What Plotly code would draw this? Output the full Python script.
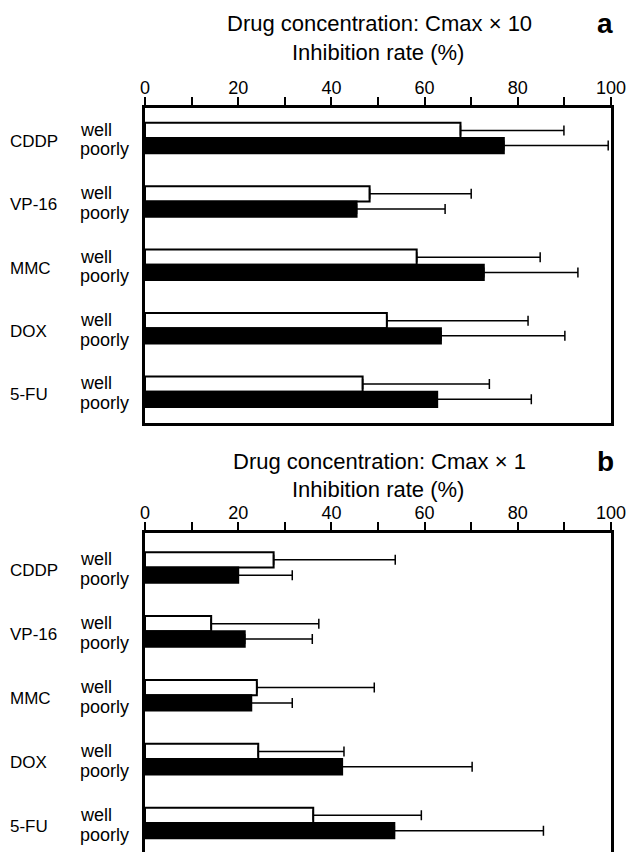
import plotly.graph_objects as go

# ---------------- data ----------------
drugs = ["CDDP", "VP-16", "MMC", "DOX", "5-FU"]
groups = ["well", "poorly"]

# Panel a: Cmax x 10  (mean, mean+SD)
a_well = [67.7, 48.2, 58.3, 51.9, 46.7]
a_well_upper = [89.9, 70.0, 84.8, 82.2, 73.9]
a_poorly = [77.0, 45.4, 72.7, 63.5, 62.7]
a_poorly_upper = [99.4, 64.4, 92.9, 90.1, 82.9]

# Panel b: Cmax x 1
b_well = [27.6, 14.2, 24.0, 24.3, 36.1]
b_well_upper = [53.7, 37.3, 49.2, 42.7, 59.3]
b_poorly = [20.0, 21.4, 22.8, 42.3, 53.5]
b_poorly_upper = [31.6, 35.9, 31.6, 70.2, 85.5]

tick_vals = [0, 10, 20, 30, 40, 50, 60, 70, 80, 90, 100]
tick_text = ["0", "", "20", "", "40", "", "60", "", "80", "", "100"]

panel_titles = ["Drug concentration: Cmax \u00d7 10", "Drug concentration: Cmax \u00d7 1"]
axis_title = "Inhibition rate (%)"
panel_letters = ["a", "b"]

# ---------------- layout constants (pixels) ----------------
W, H = 627, 852
L, R = 145, 611
FONT = "Liberation Sans, Arial, sans-serif"

def py(y):  # pixel y (from top) -> paper fraction
    return 1 - y / H

def px(x):  # pixel x -> paper fraction relative to plot area
    return (x - L) / (R - L)

pos = list(range(len(drugs)))
BW = 0.24

fig = go.Figure()

def add_panel(well, well_up, poorly, poorly_up, xa, ya):
    fig.add_trace(go.Bar(
        y=pos, x=well, orientation="h", width=BW, offset=-BW,
        marker=dict(color="white", line=dict(color="black", width=2)),
        error_x=dict(type="data", symmetric=False,
                     array=[u - v for u, v in zip(well_up, well)],
                     arrayminus=[0] * len(well),
                     color="black", thickness=1.5, width=5),
        xaxis=xa, yaxis=ya, showlegend=False, name=groups[0]))
    fig.add_trace(go.Bar(
        y=pos, x=poorly, orientation="h", width=BW, offset=0,
        marker=dict(color="black", line=dict(color="black", width=2)),
        error_x=dict(type="data", symmetric=False,
                     array=[u - v for u, v in zip(poorly_up, poorly)],
                     arrayminus=[0] * len(poorly),
                     color="black", thickness=1.5, width=5),
        xaxis=xa, yaxis=ya, showlegend=False, name=groups[1]))

add_panel(a_well, a_well_upper, a_poorly, a_poorly_upper, "x", "y")
add_panel(b_well, b_well_upper, b_poorly, b_poorly_upper, "x2", "y2")

xcommon = dict(range=[0, 100], side="top", showline=True, linewidth=3, linecolor="black",
               ticks="outside", ticklen=8, tickwidth=2, tickcolor="black",
               tickvals=tick_vals, ticktext=tick_text, ticklabelstandoff=-4,
               tickfont=dict(family=FONT, size=18, color="black"),
               showgrid=False, zeroline=False, fixedrange=True)
ycommon = dict(showline=True, linewidth=3, linecolor="black", mirror=True,
               showticklabels=False, ticks="", showgrid=False, zeroline=False,
               fixedrange=True)

# panel a box 108..423 ; panel b box 533..bottom
fig.update_layout(
    width=W, height=H,
    margin=dict(l=L, r=W - R, t=0, b=0),
    plot_bgcolor="white", paper_bgcolor="white",
    barmode="overlay",
    xaxis=dict(**xcommon, anchor="y", mirror=True),
    yaxis=dict(**ycommon, domain=[py(423), py(108)], range=[4.494, -0.473], anchor="x"),
    xaxis2=dict(**xcommon, anchor="y2", mirror=False),
    yaxis2=dict(**ycommon, domain=[0, py(533)], range=[4.454, -0.54], anchor="x2"),
)

ann = []
title_y = [(23, 53), (461, 489)]
for k in range(2):
    t1, t2 = title_y[k]
    ann.append(dict(text=panel_titles[k], xref="paper", yref="paper", x=px(379), y=py(t1),
                    xanchor="center", yanchor="middle", showarrow=False,
                    font=dict(family=FONT, size=22, color="black")))
    ann.append(dict(text=axis_title, xref="paper", yref="paper", x=px(378), y=py(t2),
                    xanchor="center", yanchor="middle", showarrow=False,
                    font=dict(family=FONT, size=22, color="black")))
    ann.append(dict(text="<b>" + panel_letters[k] + "</b>", xref="paper", yref="paper",
                    x=px(605), y=py(t1), xanchor="center", yanchor="middle", showarrow=False,
                    font=dict(family=FONT, size=28, color="black")))
    yr = "y" if k == 0 else "y2"
    for i, d in enumerate(drugs):
        ann.append(dict(text=d, xref="paper", yref=yr, x=px(8), y=i + 0.05,
                        xanchor="left", yanchor="middle", showarrow=False,
                        font=dict(family=FONT, size=17, color="black")))
        ann.append(dict(text=groups[0], xref="paper", yref=yr, x=px(78), y=i - 0.13,
                        xanchor="left", yanchor="middle", showarrow=False,
                        font=dict(family=FONT, size=18, color="black")))
        ann.append(dict(text=groups[1], xref="paper", yref=yr, x=px(78), y=i + 0.18,
                        xanchor="left", yanchor="middle", showarrow=False,
                        font=dict(family=FONT, size=18, color="black")))
fig.update_layout(annotations=ann)

fig.write_html("out.html", post_script="document.body.style.margin='0';",
               config={"displayModeBar": False})
